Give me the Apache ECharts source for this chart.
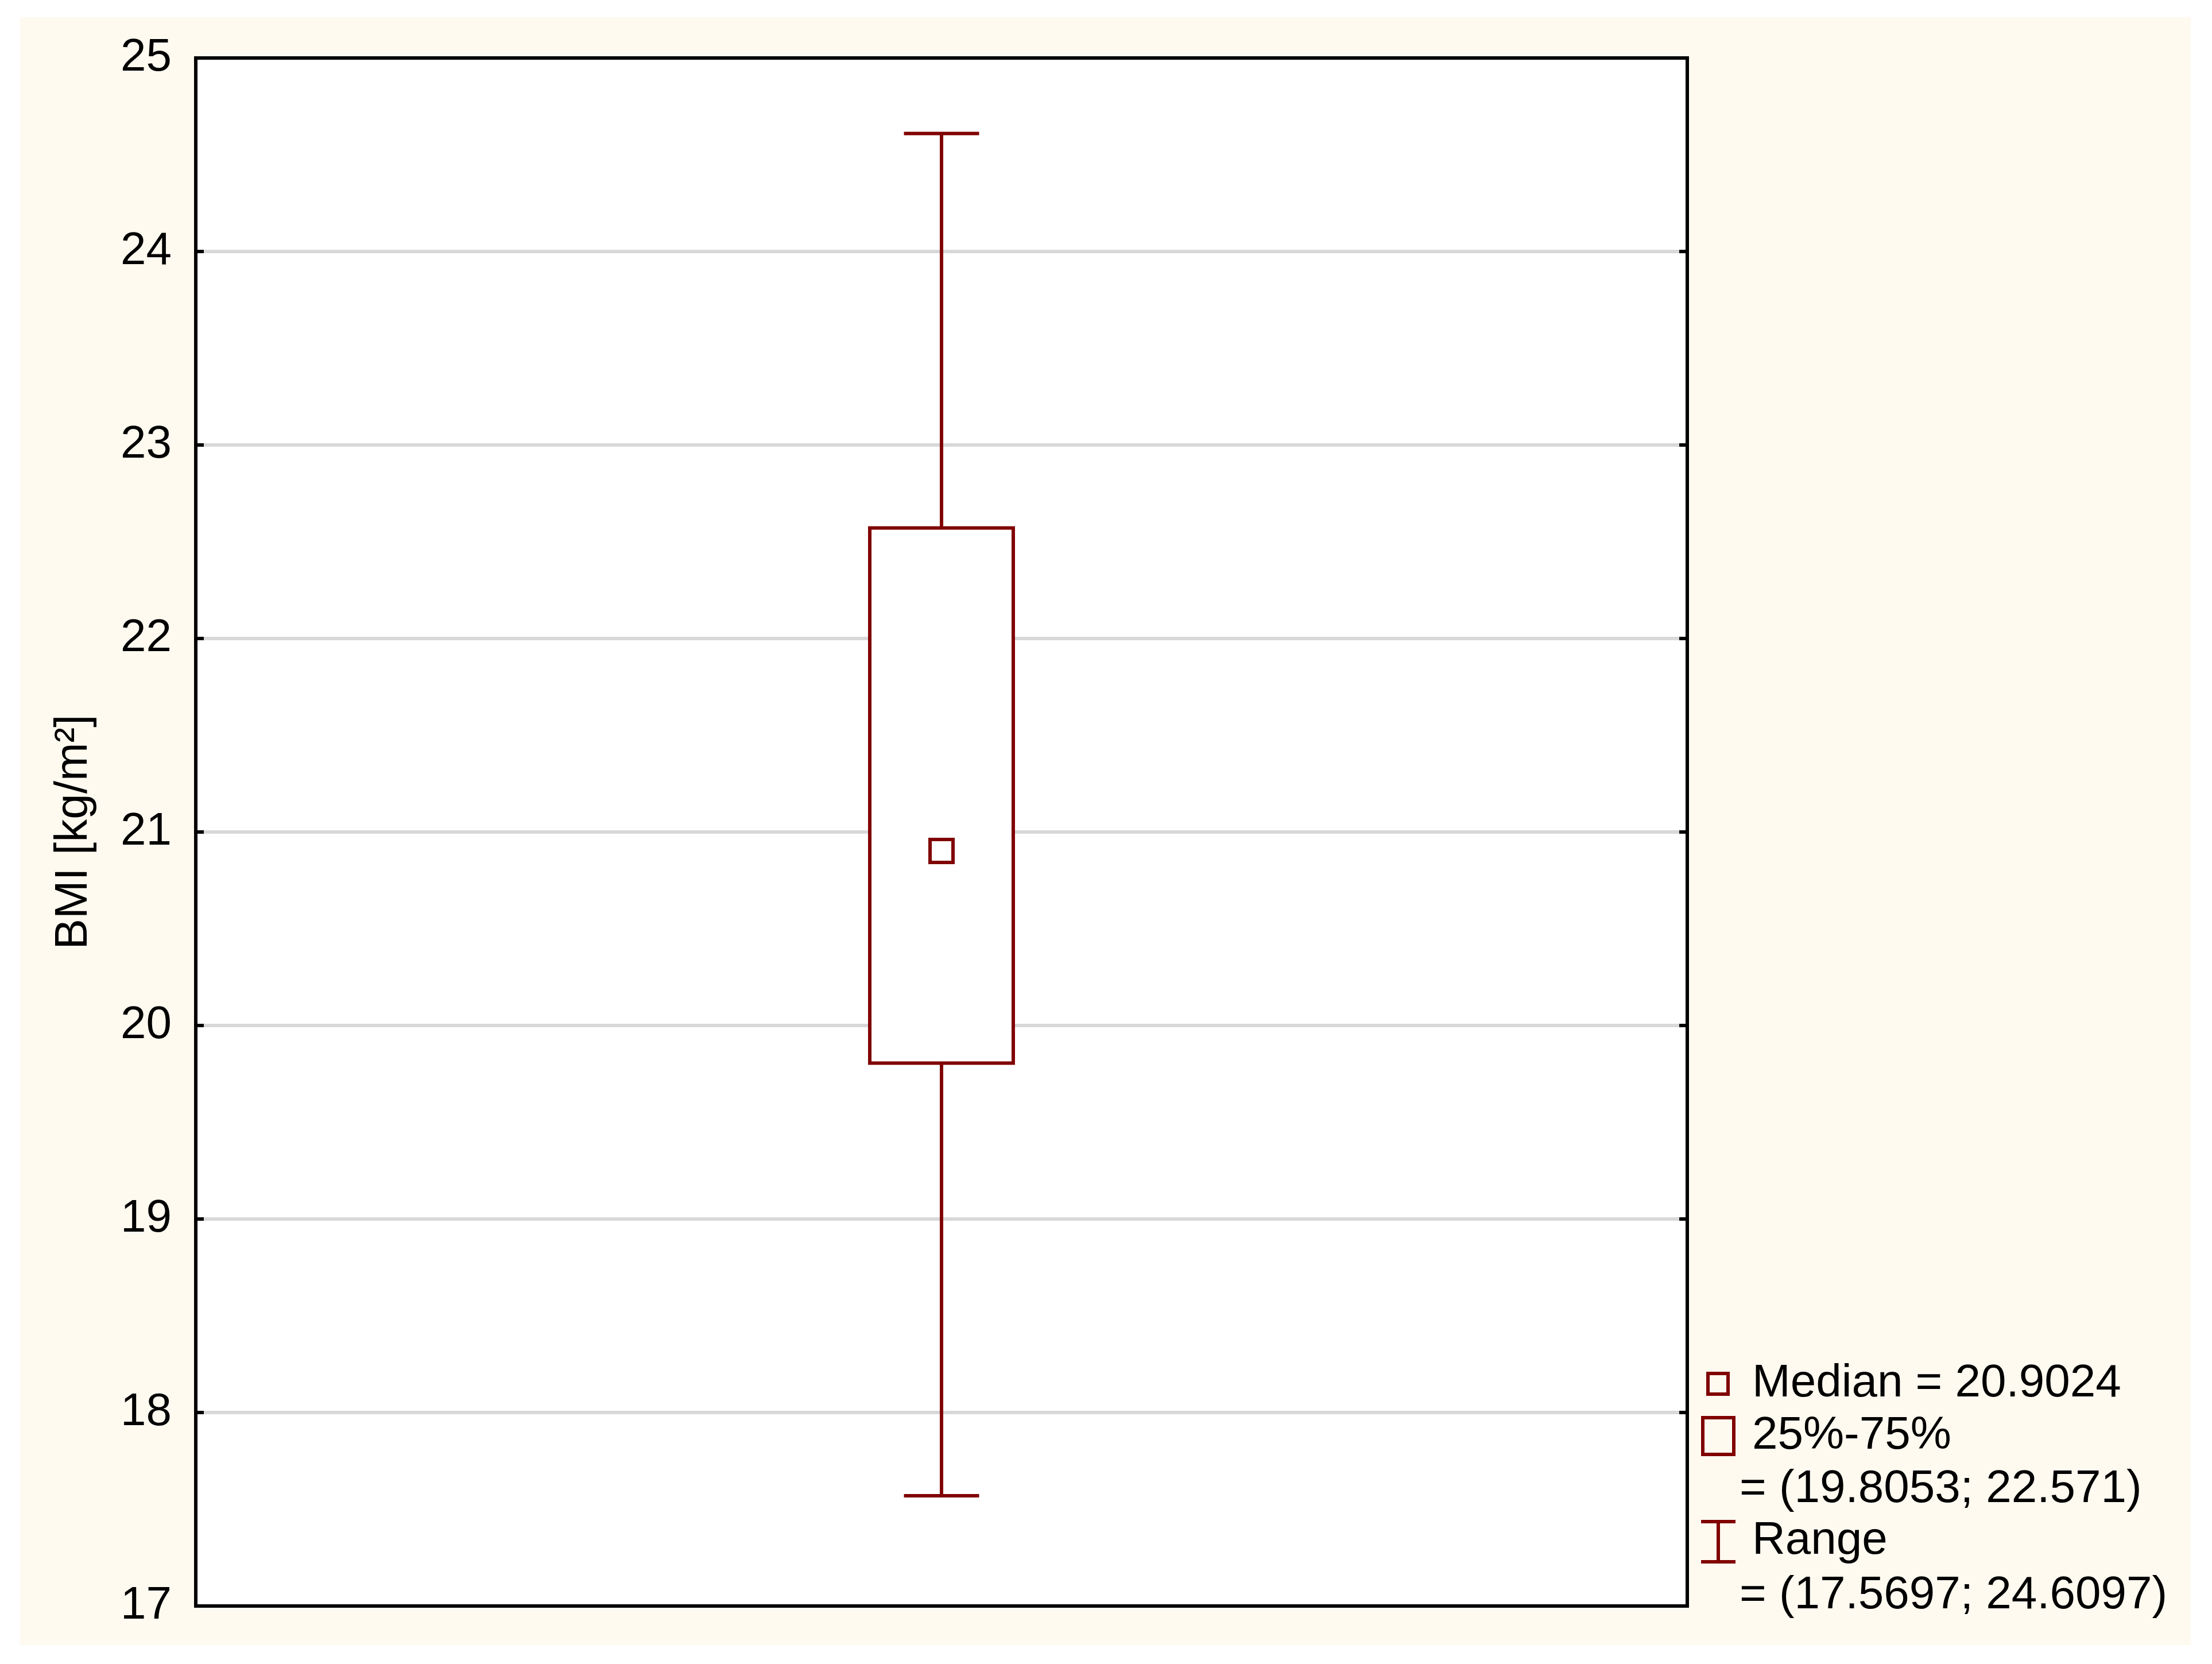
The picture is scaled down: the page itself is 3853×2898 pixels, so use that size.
<!DOCTYPE html>
<html>
<head>
<meta charset="utf-8">
<script src="https://cdn.jsdelivr.net/npm/echarts@6/dist/echarts.min.js"></script>
<style>
	html,body{margin:0;padding:0;background:#ffffff;}
	#BmiBox{width:3853px;height:2898px;}
</style>
</head>
<body>
<div id="BmiBox"></div>
<script>
	// data
	var categories = ['BMI'];
	// [min, q1, median, q3, max]
	var boxStats = [17.5697, 19.8053, 20.9024, 22.571, 24.6097];
	var yMin = 17, yMax = 25, yStep = 1;
	var legendNames = ['Median', '25%-75%', 'Range'];

	var RED = '#800000';
	var FONT = 'Liberation Sans, Arial, sans-serif';

	function renderBox(params, api) {
		var x = api.value(0);
		var lo = api.coord([x, api.value(1)]);
		var b1 = api.coord([x, api.value(2)]);
		var b3 = api.coord([x, api.value(4)]);
		var hi = api.coord([x, api.value(5)]);
		var band = api.size([1, 0])[0];
		var bw = band * 0.0962;   // box
		var cw = band * 0.0504;   // whisker caps
		var cx = lo[0];
		var st = {stroke: RED, lineWidth: 6, fill: null};
		return {
			type: 'group',
			children: [
				{type: 'line', shape: {x1: cx, y1: hi[1], x2: cx, y2: b3[1]}, style: st},
				{type: 'line', shape: {x1: cx, y1: b1[1], x2: cx, y2: lo[1]}, style: st},
				{type: 'line', shape: {x1: cx - cw / 2, y1: hi[1], x2: cx + cw / 2, y2: hi[1]}, style: st},
				{type: 'line', shape: {x1: cx - cw / 2, y1: lo[1], x2: cx + cw / 2, y2: lo[1]}, style: st},
				{type: 'rect', shape: {x: cx - bw / 2, y: b3[1], width: bw, height: b1[1] - b3[1]},
					style: {stroke: RED, lineWidth: 6, fill: '#ffffff'}}
			]
		};
	}

	function txt(x, y, s) {
		return {type: 'text', x: x, y: y, z: 100,
			style: {text: s, fill: '#000', font: '80px ' + FONT, textVerticalAlign: 'middle', textAlign: 'left'}};
	}

	var st = {stroke: RED, lineWidth: 6, fill: null};
	var legendItems = [
		{type: 'rect', z: 100, shape: {x: 2975, y: 2392, width: 35, height: 36}, style: st},
		txt(3052, 2410, legendNames[0] + ' = ' + boxStats[2]),
		{type: 'rect', z: 100, shape: {x: 2966, y: 2469, width: 54, height: 64}, style: st},
		txt(3052, 2501, legendNames[1]),
		txt(3030, 2594, '= (' + boxStats[1] + '; ' + boxStats[3] + ')'),
		{type: 'line', z: 100, shape: {x1: 2993, y1: 2650, x2: 2993, y2: 2720}, style: st},
		{type: 'line', z: 100, shape: {x1: 2963, y1: 2650, x2: 3023, y2: 2650}, style: st},
		{type: 'line', z: 100, shape: {x1: 2963, y1: 2720, x2: 3023, y2: 2720}, style: st},
		txt(3052, 2684, legendNames[2]),
		txt(3030, 2779, '= (' + boxStats[0] + '; ' + boxStats[4] + ')')
	];

	var BmiBox_option = {
		backgroundColor: '#ffffff',
		animation: false,
		graphic: [
			{type: 'rect', z: -100, silent: true, shape: {x: 35, y: 30, width: 3781, height: 2835},
				style: {fill: '#fffaf0'}}
		].concat(legendItems),
		grid: {
			left: 341, top: 101, width: 2598, height: 2696,
			show: true, backgroundColor: '#ffffff', borderColor: '#000000', borderWidth: 6
		},
		xAxis: [
			{
				type: 'category',
				data: categories,
				axisLine: {show: true, lineStyle: {color: '#000', width: 6}},
				axisTick: {show: false},
				axisLabel: {show: false},
				splitLine: {show: false}
			},
			{
				type: 'category',
				position: 'top',
				data: categories,
				axisLine: {show: true, lineStyle: {color: '#000', width: 6}},
				axisTick: {show: false},
				axisLabel: {show: false},
				splitLine: {show: false}
			}
		],
		yAxis: [
			{
				type: 'value', min: yMin, max: yMax, interval: yStep,
				name: 'BMI [kg/m²]',
				nameLocation: 'middle',
				nameGap: 172,
				nameTextStyle: {fontSize: 80, fontFamily: FONT, color: '#000'},
				axisLine: {show: true, lineStyle: {color: '#000', width: 6}},
				axisTick: {show: true, inside: true, length: 14, lineStyle: {color: '#000', width: 6}},
				axisLabel: {fontSize: 80, fontFamily: FONT, color: '#000', margin: 42},
				splitLine: {show: true, showMinLine: false, showMaxLine: false,
					lineStyle: {color: '#d8d8d8', width: 6}}
			},
			{
				type: 'value', min: yMin, max: yMax, interval: yStep, position: 'right',
				axisLine: {show: true, lineStyle: {color: '#000', width: 6}},
				axisTick: {show: true, inside: true, length: 14, lineStyle: {color: '#000', width: 6}},
				axisLabel: {show: false},
				splitLine: {show: false}
			}
		],
		series: [
			{
				type: 'custom',
				renderItem: renderBox,
				encode: {x: 0, y: [1, 2, 3, 4, 5]},
				data: [[0].concat(boxStats)],
				z: 3
			},
			{
				type: 'scatter',
				symbol: 'rect',
				symbolSize: 40,
				itemStyle: {color: '#ffffff', borderColor: RED, borderWidth: 6, opacity: 1},
				data: [[0, boxStats[2]]],
				z: 5
			}
		]
	};

	var BmiBox = echarts.init(document.getElementById('BmiBox'));
	BmiBox.setOption(BmiBox_option, true);
</script>
</body>
</html>
